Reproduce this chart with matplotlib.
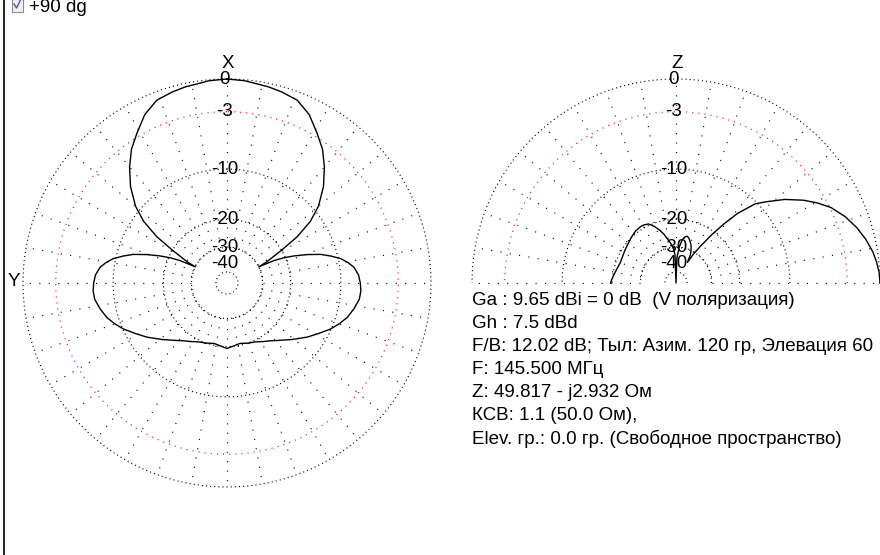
import matplotlib
matplotlib.use("Agg")
import matplotlib.pyplot as plt
import numpy as np
from matplotlib.patches import Rectangle
from matplotlib.lines import Line2D

# ── Canvas ─────────────────────────────────────────────────────────────────────
W, H = 880, 555
FONT = "Liberation Sans"
FS = 13.5

# ── Azimuth pattern (left plot, angle from X toward Y, dB) ─────────────────────
AZ_DEG = [0, 5, 12, 16, 21, 26, 31, 35.5, 40, 45, 50, 53.5, 56.6, 59, 62, 63,
          64.5, 66, 68, 70.5, 73, 75.5, 78, 80.5, 83, 86.5, 90, 93.5, 97,
          101.5, 106, 110, 114, 119, 124, 131, 139, 143, 148, 154, 161, 168,
          175, 180,
          185, 192, 199, 206, 212, 217, 221, 229, 236, 241, 246, 250, 254,
          258.5, 263, 266.5, 270, 273.5, 277, 279.5, 282, 284.5, 287, 289.5,
          292, 294, 295.5, 297, 298, 301, 303.4, 306.5, 310, 315, 320, 324.5,
          329, 334, 339, 344, 348, 355, 360]
AZ_DB = [0, -0.08, -0.3, -0.45, -0.7, -1.45, -2.65, -3.7, -5.1, -6.9, -9.2,
         -11.6, -15.2, -20, -26, -30,
         -23.4, -20.5, -17.8, -15, -12.6, -11, -9.6, -8.7, -8.0, -7.5, -7.3,
         -7.2, -7.3, -7.8, -8.4, -9.2, -10.1, -11.5, -12.8, -14.8, -16.9,
         -17.8, -18.6, -19.5, -20.0, -20.5, -20.0, -19.5,
         -20.0, -20.5, -20.0, -19.5, -18.6, -17.8, -16.9, -14.8, -12.8,
         -11.5, -10.1, -9.2, -8.4, -7.8, -7.3, -7.2, -7.3, -7.5, -8.0, -8.7,
         -9.6, -11, -12.6, -15, -17.8, -20.5, -23.4, -30, -26, -20, -15.2,
         -11.6, -9.2, -6.9, -5.1, -3.7, -2.65, -1.45, -0.7, -0.45, -0.3,
         -0.08, 0]

# ── Elevation pattern (right plot, angle from horizon, dB) ─────────────────────
EL_DEG = [0, 3, 6, 9, 13, 17, 21.5, 26, 29.5, 33, 37.5, 42, 45, 48.5, 51,
          53.5, 56.5, 59, 61, 63, 65, 68, 71, 74, 76.5, 79, 81, 83, 85, 88,
          90, 92, 94, 96, 98.5, 101, 104, 107, 111, 115, 118.5, 122, 128,
          134, 140, 147, 153.5, 160, 165, 170, 174, 177, 180]
EL_DB = [0, -0.05, -0.2, -0.4, -0.8, -1.3, -2.0, -2.9, -3.9, -5.05, -6.8,
         -8.9, -10.3, -13.5, -17, -21, -26.5, -31, -37, -32, -30, -27.8,
         -26.5, -25.3, -24.8, -25.2, -26, -27.7, -30, -36, -200, -34, -31,
         -29, -27.4, -26, -24, -22.5, -20.8, -19.6, -19.3, -19.2, -19.4,
         -19.9, -20.4, -20.8, -21.1, -21.2, -20.9, -20.5, -20.1, -19.8,
         -19.5]

# ── Grid definition ────────────────────────────────────────────────────────────
RING_DB = [0, -10, -20, -30, -50]
RED_RING_DB = -3
LABEL_DB = [0, -3, -10, -20, -30, -40]
LABEL_TXT = ["0", "-3", "-10", "-20", "-30", "-40"]
SPOKE_STEP = 10

INFO_LINES = [
    "Ga : 9.65 dBi = 0 dB  (V поляризация)",
    "Gh : 7.5 dBd",
    "F/B: 12.02 dB; Тыл: Азим. 120 гр, Элевация 60",
    "F: 145.500 МГц",
    "Z: 49.817 - j2.932 Ом",
    "КСВ: 1.1 (50.0 Ом),",
    "Elev. гр.: 0.0 гр. (Свободное пространство)",
]

# dotted grid (dash lengths are in linewidth units)
DOT_LW = 0.85
RING_DASH = (0, (0.9, 2.6))
RED_DASH = (0, (0.9, 4.3))
SPOKE_DASH = (0, (0.9, 7.1))


def arrl(db):
    """ARRL log scale: 0.89 per 2 dB, 0 dB -> radius 1."""
    return 0.89 ** (-np.asarray(db, dtype=float) / 2.0)


def fx(x):
    return x / W


def fy(y):
    return 1 - y / H


def polar_frame(cx, cy, r_px, zero, half):
    ax = fig.add_axes([fx(cx - r_px), fy(cy + r_px), 2 * r_px / W, 2 * r_px / H],
                      projection="polar")
    ax.set_theta_zero_location(zero)
    ax.set_theta_direction(1)
    ax.set_rlim(0, 1)
    ax.set_axis_off()
    ax.patch.set_alpha(0)

    t_end = np.pi if half else 2 * np.pi
    tt = np.linspace(0, t_end, 720)
    for db in RING_DB:
        ax.plot(tt, np.full_like(tt, arrl(db)), color="black", lw=DOT_LW,
                ls=RING_DASH, clip_on=False)
    ax.plot(tt, np.full_like(tt, arrl(RED_RING_DB)), color="red", lw=DOT_LW,
            ls=RED_DASH, clip_on=False)

    n_sp = 180 if half else 350
    for a in range(0, n_sp + 1, SPOKE_STEP):
        th = np.deg2rad(a)
        ax.plot([th, th], [arrl(-30), 0.975], color="black", lw=DOT_LW,
                ls=SPOKE_DASH, clip_on=False)
    return ax


def ring_labels(ax, theta, axis_name):
    for db, txt in zip(LABEL_DB, LABEL_TXT):
        ax.annotate(txt, (theta, float(arrl(db))), xytext=(-1.5, 0),
                    textcoords="offset points", ha="center", va="center",
                    fontsize=FS, family=FONT, annotation_clip=False)
    ax.annotate(axis_name, (theta, 1.0), xytext=(0.5, 11),
                textcoords="offset points", ha="center", va="center",
                fontsize=FS, family=FONT, annotation_clip=False)


fig = plt.figure(figsize=(W / 100, H / 100), dpi=100)
fig.patch.set_facecolor("white")

# ── Left: azimuth ──────────────────────────────────────────────────────────────
ax_az = polar_frame(227, 283, 204, "N", half=False)
ax_az.plot(np.deg2rad(AZ_DEG), arrl(AZ_DB), color="black", lw=1.0,
           clip_on=False)
ring_labels(ax_az, 0.0, "X")
fig.text(fx(14), fy(282), "Y", ha="center", va="center", fontsize=FS,
         family=FONT)

# ── Right: elevation ───────────────────────────────────────────────────────────
ax_el = polar_frame(676, 283, 204, "E", half=True)
ax_el.plot(np.deg2rad(EL_DEG), arrl(EL_DB), color="black", lw=1.0,
           clip_on=False)
ring_labels(ax_el, np.pi / 2, "Z")

# ── Info block ─────────────────────────────────────────────────────────────────
for i, line in enumerate(INFO_LINES):
    fig.text(fx(471.5), fy(305 + i * 23.1), line, ha="left", va="baseline",
             fontsize=FS, family=FONT)

# ── Window chrome: left border + checkbox ──────────────────────────────────────
fig.add_artist(Line2D([fx(3.5), fx(3.5)], [0, 1], color="black", lw=1.2,
                      transform=fig.transFigure))
fig.add_artist(Rectangle((fx(11.5), fy(11.5)), 11.5 / W, 13 / H,
                         transform=fig.transFigure, facecolor="#f0f0f0",
                         edgecolor="#8a8a8a", lw=0.8))
fig.add_artist(Line2D([fx(14), fx(16.5), fx(20.5)], [fy(4), fy(8), fy(0)],
                      color="#4a5a9a", lw=1.0, transform=fig.transFigure))
fig.text(fx(29), fy(12), "+90 dg", ha="left", va="baseline", fontsize=FS,
         family=FONT)

fig.savefig("out.png", dpi=100, facecolor="white")
